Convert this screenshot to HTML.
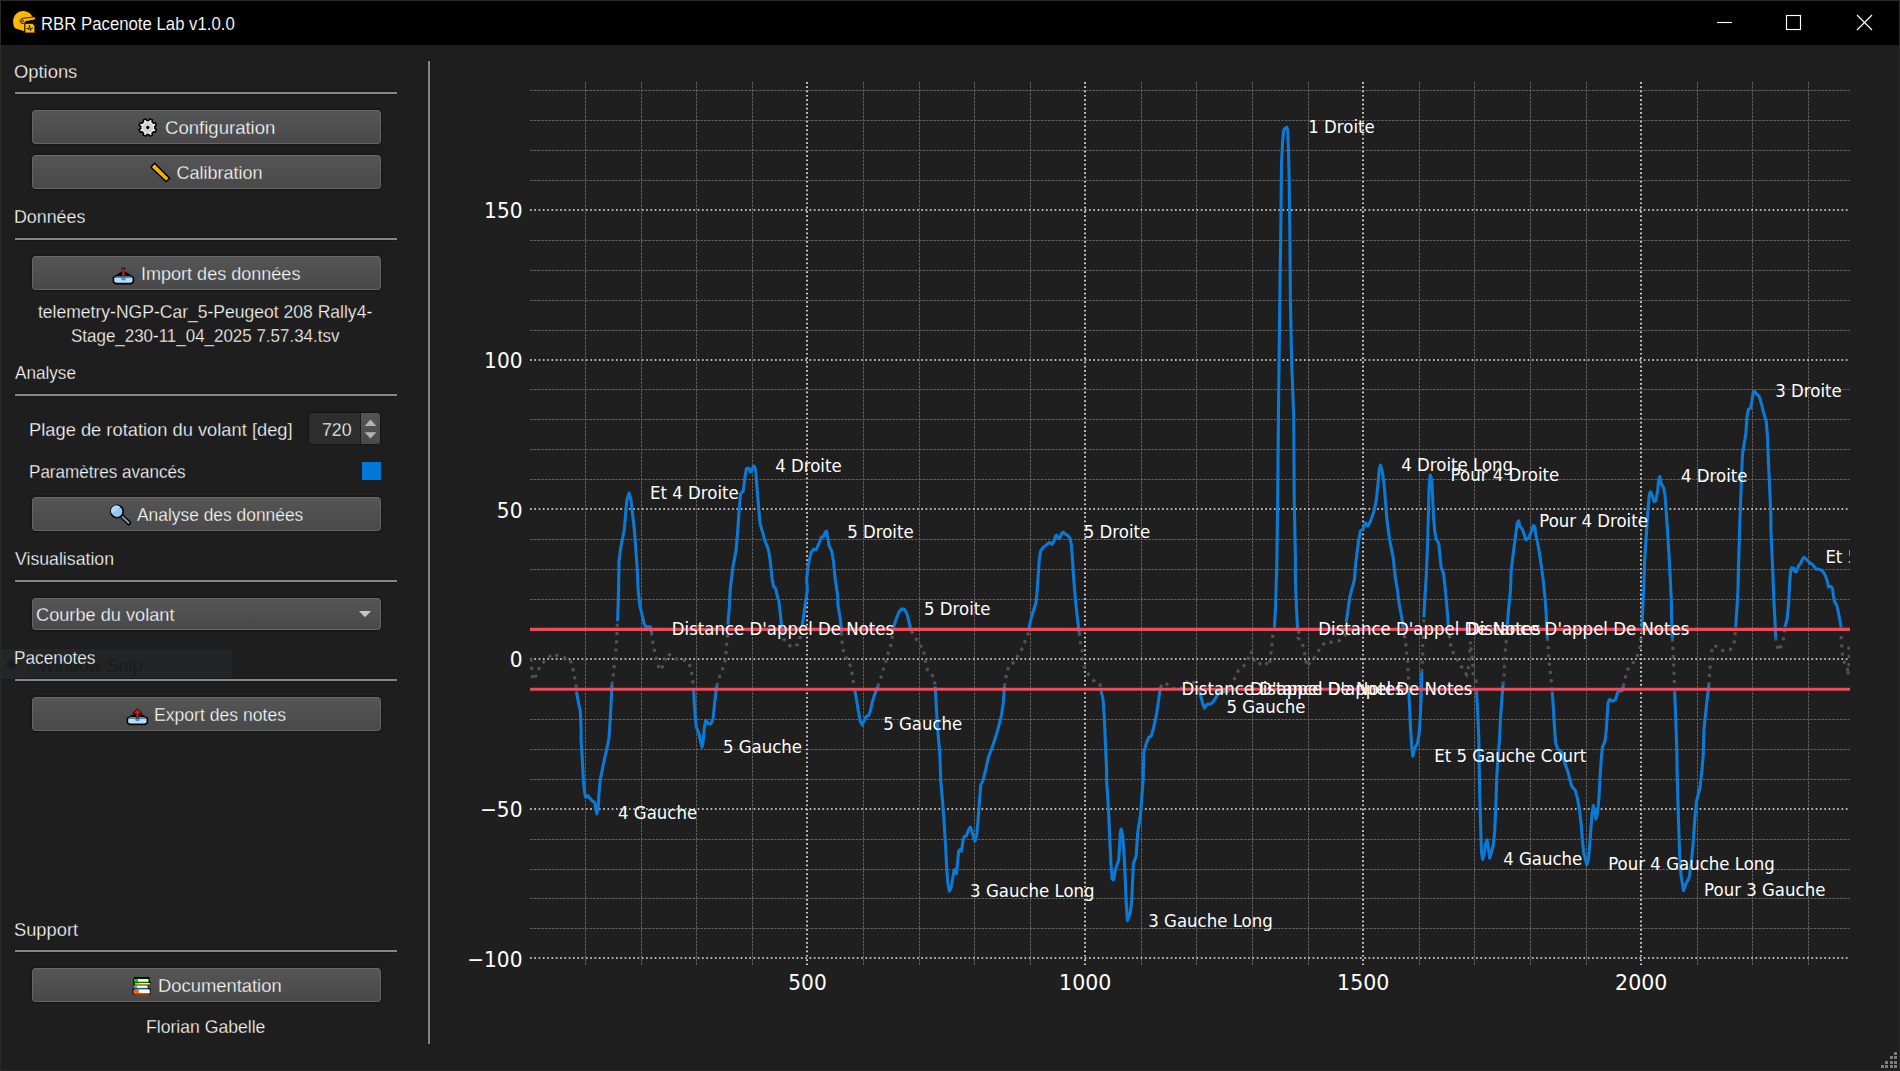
<!DOCTYPE html>
<html lang="fr"><head><meta charset="utf-8"><title>RBR Pacenote Lab v1.0.0</title>
<style>
*{box-sizing:border-box;margin:0;padding:0}
html,body{width:1900px;height:1071px;overflow:hidden;background:#1e1e1e}
body{position:relative;font-family:"Liberation Sans",sans-serif;font-size:18px;color:#fff}
.titlebar{position:absolute;left:0;top:0;width:1899px;height:45px;background:#000;border-top:1px solid #2b2b2b}
.t{-webkit-text-stroke:0.3px #1e1e1e;position:absolute;white-space:nowrap;font-size:18px;line-height:22px;transform-origin:0 50%;color:#fff}
.hl{position:absolute;left:15px;width:381.5px;height:2px;background:#878787;box-shadow:0 0 0 1px #191919}
.btn{position:absolute;left:32px;width:349px;height:34px;border:1px solid #656565;border-top-color:#6a6a6a;border-radius:4px;background:linear-gradient(#555555,#494949);box-shadow:0 0 0 1.4px #171717}
.chart,.icons{position:absolute;left:0;top:0}
.chart text{font-family:"DejaVu Sans",sans-serif;fill:#fff}
.ann text{font-size:16.58px}
.tick text{font-size:20.15px}
.vsep{position:absolute;left:428px;top:61px;width:2px;height:983px;background:#878787;box-shadow:0 0 0 1px #191919}
.ghost{position:absolute;left:0;top:649px;width:232px;height:30px;background:#222426}
.ghost i{position:absolute;left:0;top:0;width:27px;height:30px;background:#24272a}
.ghost b{position:absolute;left:7px;top:11px;width:9px;height:9px;border-radius:5px;background:#1a1c1d}
.ghost span{position:absolute;left:38px;top:6px;font-size:17.9px;line-height:22px;color:#1b1c1d;font-weight:normal;white-space:nowrap}
.spin{position:absolute;left:308px;top:412px;width:73px;height:33px;border:1px solid #141414;border-radius:4px;background:#2d2d2d;overflow:hidden}
.spin u{position:absolute;left:51px;top:0;width:21px;height:31px;background:linear-gradient(#555,#4a4a4a);border-left:1px solid #1a1a1a}
.chk{position:absolute;left:362px;top:462px;width:19px;height:18px;background:#0078d7}
</style></head><body>
<div class="titlebar"></div>
<div class="t" id="t_title" style="left:40.7px;top:12.5px;transform:scaleX(0.931);-webkit-text-stroke:0.12px #000">RBR Pacenote Lab v1.0.0</div>
<svg class="chart" width="1900" height="1071" viewBox="0 0 1900 1071">
<defs><clipPath id="pc"><rect x="530" y="82" width="1320" height="883"/></clipPath></defs>
<rect x="459" y="59" width="1426" height="954.5" fill="#1f1f1f"/>
<path d="M585.5,82V965M641.5,82V965M696.5,82V965M752.5,82V965M863.5,82V965M919.5,82V965M974.5,82V965M1030.5,82V965M1141.5,82V965M1196.5,82V965M1252.5,82V965M1308.5,82V965M1419.5,82V965M1474.5,82V965M1530.5,82V965M1586.5,82V965M1697.5,82V965M1752.5,82V965M1808.5,82V965M530,928.5H1850M530,898.5H1850M530,869.5H1850M530,839.5H1850M530,779.5H1850M530,749.5H1850M530,719.5H1850M530,689.5H1850M530,629.5H1850M530,599.5H1850M530,569.5H1850M530,539.5H1850M530,479.5H1850M530,449.5H1850M530,419.5H1850M530,389.5H1850M530,330.5H1850M530,300.5H1850M530,270.5H1850M530,240.5H1850M530,180.5H1850M530,150.5H1850M530,120.5H1850M530,90.5H1850" stroke="#626262" stroke-width="1" stroke-dasharray="2.6 1.1" fill="none"/>
<path d="M807,82V965M1085,82V965M1363,82V965M1641,82V965M530,958H1850M530,809H1850M530,659H1850M530,509H1850M530,360H1850M530,210H1850" stroke="#e6e6e6" stroke-width="1.7" stroke-dasharray="1.7 2.6" fill="none"/>
<g clip-path="url(#pc)">
<path d="M530.4,658.6 L531.3,661.2 L531.8,670.4 L532.5,678.6 L534.2,680 L537.4,672 L540.8,664.7 L546.4,659.5 L552.5,653.7 L556.8,655.5 L562.5,657.4 L569.8,658.9 L572.4,666.4 L574.2,675.1 L575.9,683.3 L576.4,690.7M612,684.7 L612.4,682 L613.4,674.2 L614.3,665.5 L615.2,657.7 L616,649 L616.6,641.2 L616.9,632.5 L617.3,623.9 L617.6,621.3M651.5,632.5 L652.3,638.6 L653.4,646.4 L655.5,654.3 L657.5,662.1 L659.3,670.2 L662.4,666.9 L665.5,659.5 L668,653.4 L674.2,658.6 L681.5,659.5 L688.5,661.6 L691.1,669.9 L692.5,678.6 L693.3,686.4 L693.7,690.7M716.8,685.9 L718.5,679.4 L721.5,671.3 L724.6,663.8 L725.8,655.6 L726.3,647 L727.2,639 L727.9,630.8 L727.9,624.7M782.2,630.8 L783.1,639.1 L786.9,641.2 L790.9,647.3 L797.9,644.4 L800.5,636.5 L802.2,626.5M841.6,632.5 L841.6,638.6 L842.7,646.4 L844.1,655.1 L848.7,661.3 L851.3,668.6 L852.5,676.9 L853.9,685.2 L854.8,690.8M877.9,686.4 L880.3,679.5 L882.5,671.7 L885.5,663.3 L887.2,655.5 L890.4,647.4 L891.8,638.7 L893,631.7 L893.5,627.6M911.2,631.1 L915.5,637.3 L919,644.8 L923.4,648.2 L924.6,656.9 L926.3,665.6 L928.2,672.5 L933.8,676.5 L935,684.7 L935.2,686.4M1004.5,686.4 L1005.3,680.4 L1007.1,671.7 L1009.3,664.7 L1015.4,661.6 L1018.4,654 L1023.2,647 L1025.8,639 L1029,631.7 L1029,628.5M1079.3,632.8 L1080.2,641.3 L1081.8,649.1 L1083.1,657.3 L1084,665.6 L1086.3,671.7 L1091.5,677.8 L1095.6,683 L1100,684.4 L1101,690.8M1160.5,687.5 L1163.7,682.3 L1170,685.9 L1176.4,690.2 L1181.6,688.1 L1188.5,680.1 L1194.3,682.8 L1199.6,691.2M1230.2,687.5 L1235.4,677 L1238.6,670.1 L1243.9,665.9 L1247.6,660.6 L1249.7,652.2 L1251.8,652.7 L1254.4,661.2 L1258.1,664.9 L1263.9,661.2 L1269.2,665.9 L1270.3,658.5 L1271.3,650.1 L1272.2,641.6 L1272.9,633.7 L1274.5,627.4M1297.7,631.1 L1300.8,634.3 L1298.2,638 L1302.4,642.7 L1304,650.3 L1305.6,658.5 L1306.6,666.4 L1313.5,659.1 L1317.7,653.2 L1320.4,646.4 L1327.2,641.6 L1331.4,642.2 L1339.3,640.6 L1345.1,635.3 L1346.3,621.7M1403.1,626.9 L1404.5,635.6 L1405.8,644.3 L1406.5,652.1 L1407.6,660.8 L1407.9,669.4 L1408.3,676.4 L1408.8,684.2 L1408.8,691.1M1421.8,672 L1422.2,664.2 L1422.7,655.5 L1422.7,646.9 L1423.2,638.2 L1423.6,630.4 L1423.9,621.7 L1423.9,617.3M1448.4,626.9 L1450,640.8 L1451.3,649.5 L1454.8,655.5 L1459.2,662.5 L1463.5,670.3 L1466.6,674.7 L1468.7,666 L1469.6,654.7 L1470.5,641.7 L1471.3,650.3 L1472.2,658.2 L1473.1,667.7 L1473.2,675.5 L1476,680.2 L1476.5,691.1M1503,684.7 L1503.9,677.7 L1504.4,669 L1504.8,660.3 L1505.3,651.7 L1506,643.8 L1506.5,636 L1507,627.3M1547.3,637.8 L1547.8,643.8 L1548.4,651.7 L1549,660.3 L1549.9,668.5 L1550.8,676.8 L1551.7,684.7 L1552.2,691.6M1623.4,686.4 L1625.1,678.6 L1627.2,670.2 L1632.4,664.3 L1636.4,658.1 L1639.4,650.8 L1640.7,642.1 L1641.4,634.3 L1642,627.3M1672.4,638.6 L1672.7,641.8 L1672.9,649.9 L1673.4,658.3 L1673.7,666.4 L1674.1,674.8 L1674.4,683.3 L1674.6,691.6M1708.8,685.2 L1709.2,678.6 L1709.9,670.2 L1710.6,662.1 L1711.4,653.9 L1712.6,645.6 L1716.6,646.4 L1721,649.9 L1724.8,651.1 L1730.2,649.6 L1734,644.4 L1734.9,636 L1735.7,627.3M1775.7,637.6 L1776.9,644.7 L1778.8,650.8 L1782.6,643 L1784.4,635.2 L1784.9,627M1840.2,627.8 L1840.6,631.6 L1841.3,639.6 L1841.9,648 L1842.6,656 L1844.4,662.7 L1847.4,667.4 L1847.8,675.4 L1849.5,658.9 L1848.9,649.7 L1848.9,641.3" stroke="#535353" stroke-width="3.1" stroke-dasharray="3.1 5.2" fill="none"/>
<path d="M576.4,691.6 L578.2,701.1 L580.4,711.6 L581.1,728.9 L581.1,740 L582.2,757.4 L583.4,779.9 L584.6,792.1 L585.6,797.3 L588.1,795.9 L591.2,799.9 L594.7,802.5 L595.9,809.5 L596.9,813.8 L598.2,807.7 L599,793.8 L600.2,779.9 L603.4,764.3 L606.8,748.7 L608.9,738.8 L610.3,718.5 L611.2,701.1 L612,684.7M617.6,621.3 L618.1,605.6 L618.6,590 L619,561.6 L620.7,547.7 L624.2,530.3 L626.8,500.8 L629.1,493 L631.1,500.8 L634.6,532 L637.2,568.5 L638.1,589.4 L639.8,605.6 L642.4,616.1 L644.2,623.9 L645.9,626.8 L650.3,626.8 L651.5,632.5M693.7,690.7 L694.2,701.1 L695.1,715 L696.3,727.2 L698.9,733.3 L700.6,741.1 L702,747.2 L703.2,741.1 L704.4,727.2 L705.8,720.3 L708.4,723.7 L711,723.7 L713.1,718.5 L714.5,704.6 L715.9,692.5 L716.8,685.9M727.9,624.7 L729.3,607.4 L730.3,588.8 L732.7,568.5 L736.2,549.4 L738,526.8 L739.2,509.5 L740.6,493.8 L743.2,491.2 L744.9,478.2 L746.3,468.7 L748.4,468.1 L750.6,472.1 L752.7,467.8 L754.1,466.1 L755.7,470.4 L757.1,488.6 L758.8,509.5 L760,523.4 L763.1,533.8 L764.9,540.7 L768.4,549.4 L770.1,559.8 L772.2,578.9 L773.6,586.8 L775.6,588.5 L777,595.2 L778.8,600.4 L780.2,612.6 L781.4,624.7 L782.2,630.8M802.2,626.5 L804.8,607.4 L807.4,590 L806.6,578.9 L808.3,565 L810.9,552.9 L813.5,549.4 L816.1,549.8 L818.7,544.2 L821.3,537.3 L823.6,536.4 L825.3,532 L826.5,531.2 L827.7,537.3 L829.1,545.9 L831.7,551.1 L833.5,561.6 L835.2,578.9 L837.8,596.3 L837.8,603.9 L840.4,619.5 L841.6,632.5M854.8,690.8 L856.5,699.5 L858.2,709.9 L860,720.3 L862.1,725.2 L864.3,720.3 L866.1,716.8 L868.7,715.1 L870.4,710.8 L872.1,702.9 L873.9,696.9 L876.1,690.8 L877.9,686.4M893.5,627.6 L895.6,620.7 L899,612 L901.7,608.9 L904.6,609.4 L906.9,613.7 L908.9,621.5 L911.2,631.1M935.2,686.4 L935.9,699.5 L936.9,716.8 L938.1,734.2 L939.9,755 L940.7,780 L942.5,800.8 L944.2,823.4 L945.6,846 L946.8,870.3 L948,884.2 L949.4,891.1 L951.1,887.7 L952.9,877.3 L954.1,870.3 L955.5,869.4 L956.4,873.8 L957.7,861.6 L958.6,851.2 L960.2,849.5 L961.6,851.2 L963,840.8 L964.2,836.4 L966.4,835.9 L968.2,830.4 L970.3,827.2 L972,831.2 L973.7,838.2 L975.1,841.1 L976.7,835.6 L978.1,819.9 L979.5,800.8 L980.7,785.2 L983.1,780.2 L985.9,768.9 L988.5,756.8 L992,748.1 L995.4,737.7 L998,729 L1001.5,715.1 L1003.3,702.9 L1004.5,686.4M1029,628.5 L1031,618.9 L1033.6,610.3 L1035.9,603.3 L1037.1,591.1 L1038.3,573.8 L1039.4,558.2 L1040.6,551.2 L1043.2,547.4 L1046.7,544.6 L1049.3,542.5 L1052.2,544.3 L1054,541.1 L1055.4,536.4 L1056.7,535.2 L1058.5,538.2 L1059.7,538.7 L1061.4,533.8 L1063.2,532.1 L1064.9,533.8 L1067.5,535.2 L1070.1,538.2 L1071.3,544.3 L1072.4,558.2 L1073.6,577.3 L1075.3,598.1 L1077.1,615.5 L1078.8,629.4 L1079.3,632.8M1101,690.8 L1103.1,699.5 L1104.3,716.8 L1105.4,742.9 L1106.6,768.9 L1106.6,780 L1108.3,806.1 L1109.5,832.1 L1110.9,863.4 L1112.1,879 L1113.5,879.9 L1115.3,870.3 L1117,865.1 L1118.7,859.9 L1119.6,846 L1120.5,831.2 L1121.3,829.1 L1122.7,835.6 L1124,852.9 L1125.2,877.3 L1126.2,901.6 L1127.4,920.7 L1128.8,917.2 L1130.4,912 L1131.8,899.8 L1132.6,880.7 L1133.5,863.4 L1136.1,856.4 L1137.8,832.1 L1140.5,814.7 L1142.2,792.2 L1143.1,780 L1143.9,751.6 L1146.5,742.9 L1148.8,737.3 L1151.2,736.3 L1153.5,728.1 L1156.4,715.1 L1158.7,699.5 L1160.4,687.3M1199.6,691.2 L1201.2,697.6 L1202.7,703.9 L1204.6,708.1 L1207,704.4 L1210.7,703.9 L1213.3,701.8 L1215.9,697.6 L1218,693.3 L1221.7,691.8 L1228.1,691.2 L1230.2,687.5M1274.5,627.4 L1275.6,606.1 L1276.3,580 L1276.8,566.3 L1277.7,496.8 L1278.5,410 L1279.1,360.3 L1279.8,299.5 L1280.8,230 L1281.5,164.2 L1282.6,142 L1283.5,131.5 L1284.2,129.2 L1286.7,127.1 L1287.8,130.8 L1288.5,150.3 L1289.2,181.6 L1290,246 L1290.4,299.5 L1291.6,360.3 L1293.7,416 L1294.2,496.8 L1295.4,557.6 L1295.4,580 L1296.4,606.1 L1297.6,630.4M1346.3,621.7 L1348,609.5 L1349.7,597.4 L1352,588.7 L1354.4,580 L1355.8,562.8 L1358.4,542 L1360.5,530.7 L1363.1,529 L1365.4,522.9 L1368,526 L1370.6,521.1 L1374.1,510.7 L1376.3,500.3 L1378.1,482.9 L1379.3,469 L1380.5,465.2 L1382.2,470.8 L1384,482.9 L1385.4,500.3 L1387.1,521.1 L1389.7,540.3 L1393.2,557.6 L1395.3,577.5 L1397.5,590.4 L1399.2,604.3 L1401.9,618.2 L1403.1,626.9M1408.8,691.1 L1409.7,708.5 L1410.5,727.6 L1411.8,746.7 L1412.8,756.3 L1414.5,748.5 L1417.5,743.3 L1419.2,732.8 L1420.4,715.5 L1421.3,692.9 L1421.8,672M1423.9,617.3 L1424.9,597.4 L1426.2,577.5 L1427.4,548.9 L1428.4,514.2 L1429.1,486.4 L1430.2,475.1 L1431.7,479.5 L1432.6,496.8 L1433.6,517.7 L1434.8,531.6 L1436.1,538.5 L1438.8,543.7 L1440.1,557.6 L1441.3,568 L1443.5,573.3 L1444.7,583.7 L1446.1,597.4 L1447.5,614.7 L1448.4,626.9M1476.5,691.1 L1477.7,712 L1478.8,738.1 L1479.2,766.1 L1479.9,800.8 L1480.9,835.5 L1481.6,852.9 L1482.7,859.5 L1484.4,852.9 L1485.6,844.2 L1487,839.9 L1488.2,845.9 L1489.6,858.1 L1491.3,852.9 L1493.4,844.2 L1494.8,830.3 L1496,800.8 L1496.9,774.7 L1498.3,753.9 L1499.5,740 L1500.4,720.3 L1502.2,694.2 L1503,684.7M1507,627.3 L1508.8,607.4 L1510.5,590 L1511.2,570.3 L1514,547.7 L1516.1,532 L1517.4,522.5 L1518.7,520.8 L1519.9,526.8 L1522.1,528.6 L1523.9,533.8 L1526.1,539.9 L1529.1,537.3 L1531.7,530.3 L1533.4,525.4 L1534.8,526.8 L1536,535.5 L1538.6,547.7 L1541.2,565 L1543.5,582.4 L1545.2,599.8 L1546.4,617.1 L1546.4,624.7 L1547.3,637.8M1552.2,691.6 L1553.4,708.1 L1554.6,728.9 L1555.6,742.8 L1557.7,748.9 L1561.2,751.5 L1563.8,760.2 L1567.7,771 L1571.6,786 L1575.4,790.4 L1577.6,799 L1579.4,809.5 L1581.1,823.4 L1582.3,839 L1583.7,852.9 L1586.9,864.7 L1588.6,858.1 L1589.8,844.2 L1591,826.8 L1592.1,812.9 L1593.3,805.6 L1594.5,809.5 L1595.9,819 L1597.6,812.9 L1599,797.3 L1600.2,774.7 L1601.4,757.4 L1602.5,746.9 L1605,741.1 L1606.4,728.9 L1607.2,715 L1608.1,702.9 L1609.5,699.4 L1612.4,701.1 L1615.4,699.8 L1617.1,694.2 L1618.5,691.1 L1622,690.7 L1623.4,686.4M1642,627.3 L1642.8,607.4 L1643.7,590 L1644.6,561.6 L1646.3,535.5 L1648,509.5 L1649.4,493.8 L1650.6,491.8 L1652.4,495.6 L1654.1,501.7 L1655.9,500.8 L1657.6,490.4 L1658.8,479.1 L1659.9,476.5 L1661.1,483.4 L1663.7,487.8 L1665.1,495.6 L1666.3,512.9 L1667.5,530.3 L1668.9,552.9 L1670.3,578.9 L1671.5,605 L1671.5,616.1 L1672.4,638.6M1674.6,691.6 L1675.5,711.6 L1676.7,746.3 L1677.2,774.7 L1678.4,818.2 L1679.6,852.9 L1681,875.5 L1683.6,890.7 L1685.8,884.1 L1689.3,877.2 L1691.4,861.6 L1693.1,844.2 L1694.9,818.2 L1696.6,800.8 L1700.1,786.9 L1701.8,771.3 L1703.2,755.6 L1704,728.9 L1706.2,708.1 L1708,692.5 L1708.8,685.2M1735.7,627.3 L1737,607.4 L1738,590 L1738.4,570.3 L1739.7,526.8 L1741.6,475 L1742.5,454.2 L1744.2,443.8 L1745.8,433.4 L1747.1,416 L1748.5,409 L1750.6,408.2 L1752,400.4 L1753.2,392.5 L1754.6,391.3 L1756.7,394.3 L1759,396 L1761,402.1 L1763.6,412.5 L1766.2,421.2 L1767.5,436.8 L1768.5,462.9 L1769.7,488.9 L1770.9,515 L1770.9,530 L1771.9,551.1 L1772.8,572.2 L1773.8,598.6 L1774.9,619.7 L1775.7,637.6M1784.9,627 L1787,619.7 L1788.6,603.8 L1789.7,582.7 L1790.5,572.2 L1791.8,567.8 L1793.4,568 L1794.9,571.4 L1796.2,571.7 L1797.6,568 L1799.2,564.8 L1800.7,563.5 L1802.3,559.5 L1803.9,557.4 L1805.5,558.3 L1807.6,560.6 L1810.2,563.2 L1812.3,564.3 L1814.5,566.9 L1816,569 L1818.7,569.2 L1821.3,570.1 L1823.4,572.2 L1825.5,575.9 L1827.1,580.6 L1828.7,587 L1830.8,586.4 L1832.4,588 L1833.4,595.4 L1834.5,601.7 L1836.6,604.9 L1838.2,611.2 L1839.8,619.7 L1841.1,627.6" stroke="#0a7ad6" stroke-width="3.1" stroke-linejoin="round" fill="none"/>
<path d="M530,629.4H1850M530,689.3H1850" stroke="#ec4b5c" stroke-width="3.1" fill="none"/>
</g>
<g clip-path="url(#pc)" class="ann">
<text id="L0" transform="translate(1308.3 132.9) scale(1 1.075)">1 Droite</text>
<text id="L1" transform="translate(650.0 498.7) scale(1 1.075)">Et 4 Droite</text>
<text id="L2" transform="translate(775.2 472.1) scale(1 1.075)">4 Droite</text>
<text id="L3" transform="translate(847.2 537.5) scale(1 1.075)">5 Droite</text>
<text id="L4" transform="translate(924.0 614.6) scale(1 1.075)">5 Droite</text>
<text id="L5" transform="translate(1083.8 538.4) scale(1 1.075)">5 Droite</text>
<text id="L6" transform="translate(618.0 819.0) scale(1 1.075)">4 Gauche</text>
<text id="L7" transform="translate(722.9 752.7) scale(1 1.075)">5 Gauche</text>
<text id="L8" transform="translate(883.2 730.3) scale(1 1.075)">5 Gauche</text>
<text id="L9" transform="translate(970.1 897.3) scale(1 1.075)">3 Gauche Long</text>
<text id="L10" transform="translate(1148.3 927.3) scale(1 1.075)">3 Gauche Long</text>
<text id="L11" transform="translate(1226.4 712.9) scale(1 1.075)">5 Gauche</text>
<text id="L12" transform="translate(1401.3 470.6) scale(1 1.075)">4 Droite Long</text>
<text id="L13" transform="translate(1450.6 481.0) scale(1 1.075)">Pour 4 Droite</text>
<text id="L14" transform="translate(1434.2 761.7) scale(1 1.075)">Et 5 Gauche Court</text>
<text id="L15" transform="translate(1539.3 526.5) scale(1 1.075)">Pour 4 Droite</text>
<text id="L16" transform="translate(1681.0 481.6) scale(1 1.075)">4 Droite</text>
<text id="L17" transform="translate(1775.3 396.5) scale(1 1.075)">3 Droite</text>
<text id="L18" transform="translate(1503.2 865.2) scale(1 1.075)">4 Gauche</text>
<text id="L19" transform="translate(1608.2 870.2) scale(1 1.075)">Pour 4 Gauche Long</text>
<text id="L20" transform="translate(1704.1 896.3) scale(1 1.075)">Pour 3 Gauche</text>
<text id="L21" transform="translate(1825.4 562.9) scale(1 1.075)">Et 5 Droite</text>
<text id="L22" transform="translate(671.8 634.8) scale(1 1.075)">Distance D'appel De Notes</text>
<text id="L23" transform="translate(1318.3 634.8) scale(1 1.075)">Distance D'appel De Notes</text>
<text id="L24" transform="translate(1466.9 634.8) scale(1 1.075)">Distance D'appel De Notes</text>
<text id="L25" transform="translate(1181.5 694.6) scale(1 1.075)">Distance D'appel De Notes</text>
<text id="L26" transform="translate(1250.0 694.6) scale(1 1.075)">Distance D'appel De Notes</text>
</g>
<g class="tick">
<text id="Y150" transform="translate(522.5 217.8) scale(1 1.09)" text-anchor="end">150</text>
<text id="Y100" transform="translate(522.5 367.8) scale(1 1.09)" text-anchor="end">100</text>
<text id="Y50" transform="translate(522.5 517.8) scale(1 1.09)" text-anchor="end">50</text>
<text id="Y0" transform="translate(522.5 666.8) scale(1 1.09)" text-anchor="end">0</text>
<text id="Y-50" transform="translate(522.5 816.8) scale(1 1.09)" text-anchor="end">−50</text>
<text id="Y-100" transform="translate(522.5 966.8) scale(1 1.09)" text-anchor="end">−100</text>
<text id="X500" transform="translate(807.5 989.8) scale(1 1.09)" text-anchor="middle">500</text>
<text id="X1000" transform="translate(1085.2 989.8) scale(1.018 1.09)" text-anchor="middle">1000</text>
<text id="X1500" transform="translate(1363.2 989.8) scale(1.018 1.09)" text-anchor="middle">1500</text>
<text id="X2000" transform="translate(1641.2 989.8) scale(1.018 1.09)" text-anchor="middle">2000</text>
</g></svg>
<div class="vsep"></div>
<div class="ghost"><i></i><b></b><span>Window Snip</span></div>
<div class="t" id="s_opt" style="left:14px;top:61px;transform:scaleX(1.02)">Options</div>
<div class="hl" style="top:92px"></div>
<div class="btn" style="top:110px"></div>
<div class="t" id="b_conf" style="left:165px;top:117.3px;transform:scaleX(1.031);-webkit-text-stroke-color:#4f4f4f">Configuration</div>
<div class="btn" style="top:155px"></div>
<div class="t" id="b_cal" style="left:176.5px;top:162px;transform:scaleX(1.0);-webkit-text-stroke-color:#4f4f4f">Calibration</div>
<div class="t" id="s_don" style="left:13.5px;top:205.5px;transform:scaleX(0.99)">Données</div>
<div class="hl" style="top:238px"></div>
<div class="btn" style="top:256px"></div>
<div class="t" id="b_imp" style="left:140.5px;top:263px;transform:scaleX(1.002);-webkit-text-stroke-color:#4f4f4f">Import des données</div>
<div class="t" id="f1" style="left:38px;top:301px;transform:scaleX(0.974)">telemetry-NGP-Car_5-Peugeot 208 Rally4-</div>
<div class="t" id="f2" style="left:71px;top:324.8px;transform:scaleX(0.942)">Stage_230-11_04_2025 7.57.34.tsv</div>
<div class="t" id="s_ana" style="left:15px;top:361.8px;transform:scaleX(0.952)">Analyse</div>
<div class="hl" style="top:394px"></div>
<div class="t" id="l_plage" style="left:28.5px;top:418.8px;transform:scaleX(1.017)">Plage de rotation du volant [deg]</div>
<div class="spin"><u></u></div>
<div class="t" id="v720" style="left:321.5px;top:419px;transform:scaleX(0.986);-webkit-text-stroke-color:#2d2d2d">720</div>
<div class="t" id="l_param" style="left:28.5px;top:460.5px;transform:scaleX(0.948)">Paramètres avancés</div>
<div class="chk"></div>
<div class="btn" style="top:497px"></div>
<div class="t" id="b_ana" style="left:137px;top:504.3px;transform:scaleX(0.966);-webkit-text-stroke-color:#4f4f4f">Analyse des données</div>
<div class="t" id="s_vis" style="left:15px;top:548px;transform:scaleX(0.983)">Visualisation</div>
<div class="hl" style="top:580px"></div>
<div class="btn" style="top:598px;height:32px"></div>
<div class="t" id="c_courbe" style="left:36px;top:603.8px;transform:scaleX(1.01);-webkit-text-stroke-color:#4f4f4f">Courbe du volant</div>
<div class="t" id="s_pac" style="left:13.5px;top:646.8px;transform:scaleX(0.958)">Pacenotes</div>
<div class="hl" style="top:679px"></div>
<div class="btn" style="top:697px"></div>
<div class="t" id="b_exp" style="left:154px;top:703.5px;transform:scaleX(0.978);-webkit-text-stroke-color:#4f4f4f">Export des notes</div>
<div class="t" id="s_sup" style="left:14px;top:919px;transform:scaleX(1.016)">Support</div>
<div class="hl" style="top:950px"></div>
<div class="btn" style="top:968px"></div>
<div class="t" id="b_doc" style="left:157.5px;top:974.8px;transform:scaleX(1.021);-webkit-text-stroke-color:#4f4f4f">Documentation</div>
<div class="t" id="l_flo" style="left:145.5px;top:1015.5px;transform:scaleX(0.978)">Florian Gabelle</div>
<svg class="icons" width="1900" height="1071" viewBox="0 0 1900 1071">
<!-- window controls -->
<g stroke="#fff" stroke-width="1.15" fill="none">
<path d="M1717,22.5H1732"/>
<rect x="1786.5" y="15.5" width="14" height="14"/>
<path d="M1857,15L1872,30M1872,15L1857,30"/>
</g>
<!-- title icon: helmet -->
<g transform="translate(12,10)">
<rect x="0.3" y="0" width="24" height="24" fill="#060606"/>
<path d="M1.1,12 C1.1,5.5 5.5,1.1 11.3,1.1 C15.5,1.1 18.6,3.4 20.3,6.4 L22.6,7.6 C23.4,8 23.3,9 22.4,9.4 L14.2,11 C13,11.3 12.4,12.3 12.4,13.4 L12.3,21.2 L3.2,18.3 C1.8,16.6 1.1,14.6 1.1,12 Z" fill="#fdb900"/>
<path d="M21.9,6.9 L11.6,8.2 C9.2,8.5 7.9,9.9 8.1,11.5 C8.3,13 9.8,13.9 11.8,13.4" fill="none" stroke="#1d1400" stroke-width="0.9"/>
<circle cx="10.4" cy="11.1" r="1.2" fill="#f0ad00" stroke="#1d1400" stroke-width="0.7"/>
<path d="M13,13.4 H20.4 L22.8,15.8 V22.9 H13 Z" fill="#fdb900" stroke="#000" stroke-width="0.7"/>
<path d="M14.4,18.5 H16 L16.7,19.6 L17.4,15.4 L18.5,20.7 L19.4,18.1 H21" fill="none" stroke="#1d1400" stroke-width="0.9" stroke-linejoin="round"/>
</g>
<!-- gear -->
<g transform="translate(147.8,127.5)">
<path id="gearp" d="M1.05,-7.02 L2.00,-8.67 L4.72,-7.55 L4.22,-5.71 L5.71,-4.22 L7.55,-4.72 L8.67,-2.00 L7.02,-1.05 L7.02,1.05 L8.67,2.00 L7.55,4.72 L5.71,4.22 L4.22,5.71 L4.72,7.55 L2.00,8.67 L1.05,7.02 L-1.05,7.02 L-2.00,8.67 L-4.72,7.55 L-4.22,5.71 L-5.71,4.22 L-7.55,4.72 L-8.67,2.00 L-7.02,1.05 L-7.02,-1.05 L-8.67,-2.00 L-7.55,-4.72 L-5.71,-4.22 L-4.22,-5.71 L-4.72,-7.55 L-2.00,-8.67 L-1.05,-7.02 Z" fill="#ececec" stroke="#000" stroke-width="1.5" stroke-linejoin="round"/>
<circle r="4.7" fill="#dcdcdc" stroke="#b4b4b4" stroke-width="0.5"/>
<circle r="3.5" fill="none" stroke="#b9b9b9" stroke-width="0.5"/>
<circle r="1.7" fill="#000"/>
</g>
<!-- ruler -->
<g>
<path d="M154.6,163.3 L169.7,178.4 L166,181.5 L150.9,167.3 Z" fill="#fbb900" stroke="#000" stroke-width="1.5" stroke-linejoin="round"/>
<path d="M155.5,167.2l.6,.6M158.3,169.6l.6,.6M160.3,172.6l.6,.6M162.5,173.8l.6,.6M163.5,175.2l.6,.6M165.3,177.6l.6,.6" stroke="#7a6a3a" stroke-width="0.7"/>
</g>
<!-- import tray -->
<g id="tray">
<path d="M113.3,277.6 L120.8,272.9 H126 L133.5,277.6 V282 L131.2,283.7 H115.4 L113.3,282 Z" fill="#000" stroke="#000" stroke-width="1.4" stroke-linejoin="round"/>
<path d="M114.2,277.6 H132.5 V281.6 L130.8,282.8 H115.8 L114.2,281.6 Z" fill="#b9def5"/>
<path d="M114.4,277.5 L116.5,276.2 H130.3 L132.4,277.5 Z" fill="#3f9be0"/>
<path d="M121,277.4 H126 V278.2 A2.5,2.2 0 0 1 121,278.2 Z" fill="#3a96dd"/>
</g>
<path d="M122.2,268.5 H124.6 V274.2 H126 L123.4,276.9 L120.8,274.2 H122.2 Z" fill="#e81123" stroke="#1a0a0a" stroke-width="0.5"/>
<rect x="121.4" y="267.8" width="4" height="1.2" fill="#0a1a1a"/>
<!-- export tray -->
<g transform="translate(14,440.8)">
<path d="M113.3,277.6 L119,274.4 H128 L133.5,277.6 V282 L131.2,283.7 H115.4 L113.3,282 Z" fill="#000" stroke="#000" stroke-width="1.4" stroke-linejoin="round"/>
<path d="M114.2,277.6 H132.5 V281.6 L130.8,282.8 H115.8 L114.2,281.6 Z" fill="#b9def5"/>
<path d="M114.4,277.5 L116.5,276.2 H130.3 L132.4,277.5 Z" fill="#3f9be0"/>
<path d="M121,277.4 H126 V278.2 A2.5,2.2 0 0 1 121,278.2 Z" fill="#3a96dd"/>
</g>
<path d="M137.4,709.3 L141.2,713.3 H138.4 V717.9 H136.4 V713.3 H133.6 Z" fill="#e81123" stroke="#000" stroke-width="1.3" stroke-linejoin="round" paint-order="stroke"/>
<!-- magnifier -->
<g>
<path d="M121.4,515.9 L128.9,523" stroke="#000" stroke-width="4.6" stroke-linecap="round"/>
<path d="M122,516.5 L128.6,522.7" stroke="#8b9ba3" stroke-width="2" stroke-linecap="round"/>
<circle cx="117" cy="511.5" r="6.2" fill="#8fc8f1" stroke="#000" stroke-width="1.6"/>
<path d="M111.7,513.5 A5.5,5.5 0 0 1 120.2,506.8 Z" fill="#b3daf5"/>
</g>
<!-- books -->
<g>
<path d="M134,977 H149.6 V981.6 H150.6 V985 H148.8 V988.3 H150.6 V994.9 H134.4 L132.4,993 V989.4 L133.4,988.3 L132.4,987 L133.4,985 L133.4,983 L132.8,981 Z" fill="#000"/>
<rect x="133.8" y="978.7" width="14.8" height="3.9" rx="1.4" fill="#16c60c"/>
<rect x="138" y="979.2" width="10.4" height="2.6" fill="#fff"/>
<rect x="136" y="981.8" width="12.6" height="0.8" fill="#107c10"/>
<rect x="134.6" y="983" width="15.7" height="1.8" rx="0.8" fill="#fcb900"/>
<rect x="139" y="983" width="10.6" height="0.8" fill="#fff"/>
<rect x="133.2" y="985.1" width="15.2" height="3.5" rx="1.5" fill="#3a96dd"/>
<rect x="136.9" y="985.9" width="10.4" height="2" fill="#fff"/>
<rect x="136" y="987.9" width="12.4" height="0.8" fill="#0063b1"/>
<rect x="133.2" y="989" width="17.1" height="5.4" rx="2.4" fill="#f7630c"/>
<rect x="138.8" y="989.6" width="10.6" height="3.4" fill="#fff"/>
<rect x="137" y="993" width="13.3" height="1.4" fill="#ca5010"/>
</g>
<!-- combo arrow, spin arrows -->
<path d="M358.9,610.9 H371.1 L365,617.2 Z" fill="#c6c6c6"/>
<path d="M364.6,425.9 L370.5,419.6 L376.4,425.9 Z M364.6,432.2 H376.4 L370.5,438.5 Z" fill="#b4b4b4"/>
<!-- size grip -->
<g fill="#7c7c7c"><rect x="1881" y="1065" width="3" height="3"/><rect x="1885" y="1065" width="3" height="3"/><rect x="1890" y="1065" width="3" height="3"/><rect x="1894" y="1065" width="3" height="3"/><rect x="1885" y="1061" width="3" height="3"/><rect x="1890" y="1061" width="3" height="3"/><rect x="1894" y="1061" width="3" height="3"/><rect x="1890" y="1056" width="3" height="3"/><rect x="1894" y="1056" width="3" height="3"/><rect x="1894" y="1052" width="3" height="3"/></g>
<rect x="1899" y="0" width="1" height="1071" fill="#2a2a2a"/><rect x="0" y="1070" width="1900" height="1" fill="#272727"/><rect x="0" y="0" width="1" height="1071" fill="#2a2a2a"/>
</svg>

</body></html>
